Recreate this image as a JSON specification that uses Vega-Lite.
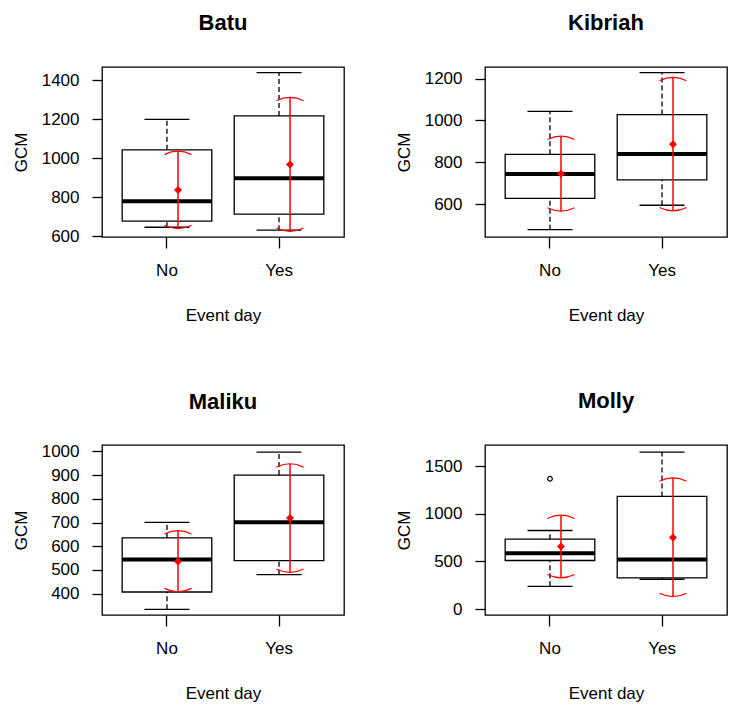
{
  "$schema": "https://vega.github.io/schema/vega-lite/v6.json",
  "padding": {"left": 11, "top": 11, "right": 5, "bottom": 5},
  "background": "white",
  "config": {
    "font": "Liberation Sans",
    "view": {"stroke": "#000000", "strokeWidth": 1.3},
    "title": {"fontSize": 22, "fontWeight": "bold", "color": "#000000", "anchor": "middle", "frame": "group", "baseline": "alphabetic", "offset": 32},
    "axis": {"grid": false, "domain": false, "labelColor": "#000000", "titleColor": "#000000", "tickColor": "#000000", "labelFontSize": 17, "titleFontSize": 17, "titleFontWeight": "normal", "tickWidth": 1.3, "labelOverlap": false},
    "axisX": {"tickSize": 11, "labelPadding": 14, "titlePadding": 29, "labelAngle": 0},
    "axisY": {"tickSize": 10, "labelPadding": 13, "titlePadding": 11, "format": "d"}
  },
  "datasets": {
    "stats": [
      {"animal": "Batu", "event": "No", "lower": 645, "q1": 676, "median": 778, "q3": 1042, "upper": 1198, "mean": 836, "ci_lo": 638, "ci_hi": 1035},
      {"animal": "Batu", "event": "Yes", "lower": 630, "q1": 712, "median": 896, "q3": 1216, "upper": 1438, "mean": 967, "ci_lo": 624, "ci_hi": 1311},
      {"animal": "Kibriah", "event": "No", "lower": 477, "q1": 627, "median": 744, "q3": 838, "upper": 1044, "mean": 745, "ci_lo": 566, "ci_hi": 925},
      {"animal": "Kibriah", "event": "Yes", "lower": 594, "q1": 716, "median": 839, "q3": 1028, "upper": 1229, "mean": 886, "ci_lo": 567, "ci_hi": 1206},
      {"animal": "Maliku", "event": "No", "lower": 334, "q1": 407, "median": 544, "q3": 635, "upper": 701, "mean": 536, "ci_lo": 408, "ci_hi": 666},
      {"animal": "Maliku", "event": "Yes", "lower": 480, "q1": 539, "median": 701, "q3": 900, "upper": 997, "mean": 719, "ci_lo": 490, "ci_hi": 948},
      {"animal": "Molly", "event": "No", "lower": 239, "q1": 510, "median": 587, "q3": 734, "upper": 826, "mean": 657, "ci_lo": 327, "ci_hi": 987},
      {"animal": "Molly", "event": "Yes", "lower": 313, "q1": 327, "median": 520, "q3": 1184, "upper": 1651, "mean": 752, "ci_lo": 130, "ci_hi": 1380}
    ],
    "outliers": [
      {"animal": "Molly", "event": "No", "value": 1370}
    ]
  },
  "concat": [
    {
      "title": "Batu",
      "width": 242, "height": 170,
      "data": {"name": "stats"},
      "transform": [{"filter": "datum.animal === 'Batu'"}],
      "encoding": {
        "x": {"field": "event", "type": "nominal", "sort": ["No", "Yes"], "scale": {"paddingInner": 0.2, "paddingOuter": 0.18}, "axis": {"title": "Event day"}}
      },
      "layer": [
        {"mark": {"type": "rule", "color": "#000000", "strokeWidth": 1.3, "strokeDash": [5, 3]}, "encoding": {"y": {"field": "q3", "type": "quantitative", "scale": {"domain": [595, 1467], "nice": false, "zero": false}, "axis": {"title": "GCM", "values": [600, 800, 1000, 1200, 1400], "labelOverlap": false}}, "y2": {"field": "upper"}}},
        {"mark": {"type": "rule", "color": "#000000", "strokeWidth": 1.3, "strokeDash": [5, 3]}, "encoding": {"y": {"field": "lower", "type": "quantitative"}, "y2": {"field": "q1"}}},
        {"mark": {"type": "tick", "color": "#000000", "opacity": 1, "size": 45, "thickness": 1.3}, "encoding": {"y": {"field": "upper", "type": "quantitative"}}},
        {"mark": {"type": "tick", "color": "#000000", "opacity": 1, "size": 45, "thickness": 1.3}, "encoding": {"y": {"field": "lower", "type": "quantitative"}}},
        {"mark": {"type": "bar", "fill": "white", "fillOpacity": 0, "stroke": "#000000", "strokeWidth": 1.3}, "encoding": {"y": {"field": "q1", "type": "quantitative"}, "y2": {"field": "q3"}}},
        {"mark": {"type": "tick", "color": "#000000", "opacity": 1, "size": 90, "thickness": 4}, "encoding": {"y": {"field": "median", "type": "quantitative"}}},
        {"mark": {"type": "rule", "color": "#FF0000", "strokeWidth": 1.5, "xOffset": 11}, "encoding": {"y": {"field": "ci_lo", "type": "quantitative"}, "y2": {"field": "ci_hi"}}},
        {"mark": {"type": "point", "shape": "M -1 0.25 Q 0 -0.25 1 0.25", "size": 729, "filled": false, "color": "#FF0000", "strokeWidth": 1.2, "opacity": 1, "xOffset": 11}, "encoding": {"y": {"field": "ci_hi", "type": "quantitative"}}},
        {"mark": {"type": "point", "shape": "M -1 -0.25 Q 0 0.25 1 -0.25", "size": 729, "filled": false, "color": "#FF0000", "strokeWidth": 1.2, "opacity": 1, "xOffset": 11}, "encoding": {"y": {"field": "ci_lo", "type": "quantitative"}}},
        {"mark": {"type": "point", "shape": "diamond", "size": 64, "filled": true, "color": "#FF0000", "opacity": 1, "xOffset": 11}, "encoding": {"y": {"field": "mean", "type": "quantitative"}}}
      ]
    },
    {
      "title": "Kibriah",
      "width": 242, "height": 170,
      "data": {"name": "stats"},
      "transform": [{"filter": "datum.animal === 'Kibriah'"}],
      "encoding": {
        "x": {"field": "event", "type": "nominal", "sort": ["No", "Yes"], "scale": {"paddingInner": 0.2, "paddingOuter": 0.18}, "axis": {"title": "Event day"}}
      },
      "layer": [
        {"mark": {"type": "rule", "color": "#000000", "strokeWidth": 1.3, "strokeDash": [5, 3]}, "encoding": {"y": {"field": "q3", "type": "quantitative", "scale": {"domain": [442, 1256], "nice": false, "zero": false}, "axis": {"title": "GCM", "values": [600, 800, 1000, 1200], "labelOverlap": false}}, "y2": {"field": "upper"}}},
        {"mark": {"type": "rule", "color": "#000000", "strokeWidth": 1.3, "strokeDash": [5, 3]}, "encoding": {"y": {"field": "lower", "type": "quantitative"}, "y2": {"field": "q1"}}},
        {"mark": {"type": "tick", "color": "#000000", "opacity": 1, "size": 45, "thickness": 1.3}, "encoding": {"y": {"field": "upper", "type": "quantitative"}}},
        {"mark": {"type": "tick", "color": "#000000", "opacity": 1, "size": 45, "thickness": 1.3}, "encoding": {"y": {"field": "lower", "type": "quantitative"}}},
        {"mark": {"type": "bar", "fill": "white", "fillOpacity": 0, "stroke": "#000000", "strokeWidth": 1.3}, "encoding": {"y": {"field": "q1", "type": "quantitative"}, "y2": {"field": "q3"}}},
        {"mark": {"type": "tick", "color": "#000000", "opacity": 1, "size": 90, "thickness": 4}, "encoding": {"y": {"field": "median", "type": "quantitative"}}},
        {"mark": {"type": "rule", "color": "#FF0000", "strokeWidth": 1.5, "xOffset": 11}, "encoding": {"y": {"field": "ci_lo", "type": "quantitative"}, "y2": {"field": "ci_hi"}}},
        {"mark": {"type": "point", "shape": "M -1 0.25 Q 0 -0.25 1 0.25", "size": 729, "filled": false, "color": "#FF0000", "strokeWidth": 1.2, "opacity": 1, "xOffset": 11}, "encoding": {"y": {"field": "ci_hi", "type": "quantitative"}}},
        {"mark": {"type": "point", "shape": "M -1 -0.25 Q 0 0.25 1 -0.25", "size": 729, "filled": false, "color": "#FF0000", "strokeWidth": 1.2, "opacity": 1, "xOffset": 11}, "encoding": {"y": {"field": "ci_lo", "type": "quantitative"}}},
        {"mark": {"type": "point", "shape": "diamond", "size": 64, "filled": true, "color": "#FF0000", "opacity": 1, "xOffset": 11}, "encoding": {"y": {"field": "mean", "type": "quantitative"}}}
      ]
    },
    {
      "title": {"text": "Maliku", "offset": 28},
      "width": 242, "height": 170,
      "data": {"name": "stats"},
      "transform": [{"filter": "datum.animal === 'Maliku'"}],
      "encoding": {
        "x": {"field": "event", "type": "nominal", "sort": ["No", "Yes"], "scale": {"paddingInner": 0.2, "paddingOuter": 0.18}, "axis": {"title": "Event day"}}
      },
      "layer": [
        {"mark": {"type": "rule", "color": "#000000", "strokeWidth": 1.3, "strokeDash": [5, 3]}, "encoding": {"y": {"field": "q3", "type": "quantitative", "scale": {"domain": [310, 1027], "nice": false, "zero": false}, "axis": {"title": "GCM", "values": [400, 500, 600, 700, 800, 900, 1000], "labelOverlap": false, "tickCount": 7}}, "y2": {"field": "upper"}}},
        {"mark": {"type": "rule", "color": "#000000", "strokeWidth": 1.3, "strokeDash": [5, 3]}, "encoding": {"y": {"field": "lower", "type": "quantitative", "axis": {"title": "GCM", "values": [400, 500, 600, 700, 800, 900, 1000], "labelOverlap": false}}, "y2": {"field": "q1"}}},
        {"mark": {"type": "tick", "color": "#000000", "opacity": 1, "size": 45, "thickness": 1.3}, "encoding": {"y": {"field": "upper", "type": "quantitative", "axis": {"title": "GCM", "values": [400, 500, 600, 700, 800, 900, 1000], "labelOverlap": false}}}},
        {"mark": {"type": "tick", "color": "#000000", "opacity": 1, "size": 45, "thickness": 1.3}, "encoding": {"y": {"field": "lower", "type": "quantitative", "axis": {"title": "GCM", "values": [400, 500, 600, 700, 800, 900, 1000], "labelOverlap": false}}}},
        {"mark": {"type": "bar", "fill": "white", "fillOpacity": 0, "stroke": "#000000", "strokeWidth": 1.3}, "encoding": {"y": {"field": "q1", "type": "quantitative", "axis": {"title": "GCM", "values": [400, 500, 600, 700, 800, 900, 1000], "labelOverlap": false}}, "y2": {"field": "q3"}}},
        {"mark": {"type": "tick", "color": "#000000", "opacity": 1, "size": 90, "thickness": 4}, "encoding": {"y": {"field": "median", "type": "quantitative", "axis": {"title": "GCM", "values": [400, 500, 600, 700, 800, 900, 1000], "labelOverlap": false}}}},
        {"mark": {"type": "rule", "color": "#FF0000", "strokeWidth": 1.5, "xOffset": 11}, "encoding": {"y": {"field": "ci_lo", "type": "quantitative", "axis": {"title": "GCM", "values": [400, 500, 600, 700, 800, 900, 1000], "labelOverlap": false}}, "y2": {"field": "ci_hi"}}},
        {"mark": {"type": "point", "shape": "M -1 0.25 Q 0 -0.25 1 0.25", "size": 729, "filled": false, "color": "#FF0000", "strokeWidth": 1.2, "opacity": 1, "xOffset": 11}, "encoding": {"y": {"field": "ci_hi", "type": "quantitative", "axis": {"title": "GCM", "values": [400, 500, 600, 700, 800, 900, 1000], "labelOverlap": false}}}},
        {"mark": {"type": "point", "shape": "M -1 -0.25 Q 0 0.25 1 -0.25", "size": 729, "filled": false, "color": "#FF0000", "strokeWidth": 1.2, "opacity": 1, "xOffset": 11}, "encoding": {"y": {"field": "ci_lo", "type": "quantitative", "axis": {"title": "GCM", "values": [400, 500, 600, 700, 800, 900, 1000], "labelOverlap": false}}}},
        {"mark": {"type": "point", "shape": "diamond", "size": 64, "filled": true, "color": "#FF0000", "opacity": 1, "xOffset": 11}, "encoding": {"y": {"field": "mean", "type": "quantitative", "axis": {"title": "GCM", "values": [400, 500, 600, 700, 800, 900, 1000], "labelOverlap": false}}}}
      ]
    },
    {
      "title": "Molly",
      "width": 242, "height": 170,
      "encoding": {
        "x": {"field": "event", "type": "nominal", "sort": ["No", "Yes"], "scale": {"paddingInner": 0.2, "paddingOuter": 0.18}, "axis": {"title": "Event day"}}
      },
      "layer": [
        {"data": {"name": "stats"}, "transform": [{"filter": "datum.animal === 'Molly'"}], "mark": {"type": "rule", "color": "#000000", "strokeWidth": 1.3, "strokeDash": [5, 3]}, "encoding": {"y": {"field": "q3", "type": "quantitative", "scale": {"domain": [-63, 1725], "nice": false, "zero": false}, "axis": {"title": "GCM", "values": [0, 500, 1000, 1500], "labelOverlap": false}}, "y2": {"field": "upper"}}},
        {"data": {"name": "stats"}, "transform": [{"filter": "datum.animal === 'Molly'"}], "mark": {"type": "rule", "color": "#000000", "strokeWidth": 1.3, "strokeDash": [5, 3]}, "encoding": {"y": {"field": "lower", "type": "quantitative"}, "y2": {"field": "q1"}}},
        {"data": {"name": "stats"}, "transform": [{"filter": "datum.animal === 'Molly'"}], "mark": {"type": "tick", "color": "#000000", "opacity": 1, "size": 45, "thickness": 1.3}, "encoding": {"y": {"field": "upper", "type": "quantitative"}}},
        {"data": {"name": "stats"}, "transform": [{"filter": "datum.animal === 'Molly'"}], "mark": {"type": "tick", "color": "#000000", "opacity": 1, "size": 45, "thickness": 1.3}, "encoding": {"y": {"field": "lower", "type": "quantitative"}}},
        {"data": {"name": "stats"}, "transform": [{"filter": "datum.animal === 'Molly'"}], "mark": {"type": "bar", "fill": "white", "fillOpacity": 0, "stroke": "#000000", "strokeWidth": 1.3}, "encoding": {"y": {"field": "q1", "type": "quantitative"}, "y2": {"field": "q3"}}},
        {"data": {"name": "stats"}, "transform": [{"filter": "datum.animal === 'Molly'"}], "mark": {"type": "tick", "color": "#000000", "opacity": 1, "size": 90, "thickness": 4}, "encoding": {"y": {"field": "median", "type": "quantitative"}}},
        {"data": {"name": "outliers"}, "mark": {"type": "point", "shape": "circle", "size": 22, "filled": false, "color": "#000000", "strokeWidth": 1.2, "opacity": 1}, "encoding": {"y": {"field": "value", "type": "quantitative"}}},
        {"data": {"name": "stats"}, "transform": [{"filter": "datum.animal === 'Molly'"}], "mark": {"type": "rule", "color": "#FF0000", "strokeWidth": 1.5, "xOffset": 11}, "encoding": {"y": {"field": "ci_lo", "type": "quantitative"}, "y2": {"field": "ci_hi"}}},
        {"data": {"name": "stats"}, "transform": [{"filter": "datum.animal === 'Molly'"}], "mark": {"type": "point", "shape": "M -1 0.25 Q 0 -0.25 1 0.25", "size": 729, "filled": false, "color": "#FF0000", "strokeWidth": 1.2, "opacity": 1, "xOffset": 11}, "encoding": {"y": {"field": "ci_hi", "type": "quantitative"}}},
        {"data": {"name": "stats"}, "transform": [{"filter": "datum.animal === 'Molly'"}], "mark": {"type": "point", "shape": "M -1 -0.25 Q 0 0.25 1 -0.25", "size": 729, "filled": false, "color": "#FF0000", "strokeWidth": 1.2, "opacity": 1, "xOffset": 11}, "encoding": {"y": {"field": "ci_lo", "type": "quantitative"}}},
        {"data": {"name": "stats"}, "transform": [{"filter": "datum.animal === 'Molly'"}], "mark": {"type": "point", "shape": "diamond", "size": 64, "filled": true, "color": "#FF0000", "opacity": 1, "xOffset": 11}, "encoding": {"y": {"field": "mean", "type": "quantitative"}}}
      ]
    }
  ],
  "columns": 2,
  "spacing": {"row": 208, "column": 141},
  "bounds": "flush"
}
